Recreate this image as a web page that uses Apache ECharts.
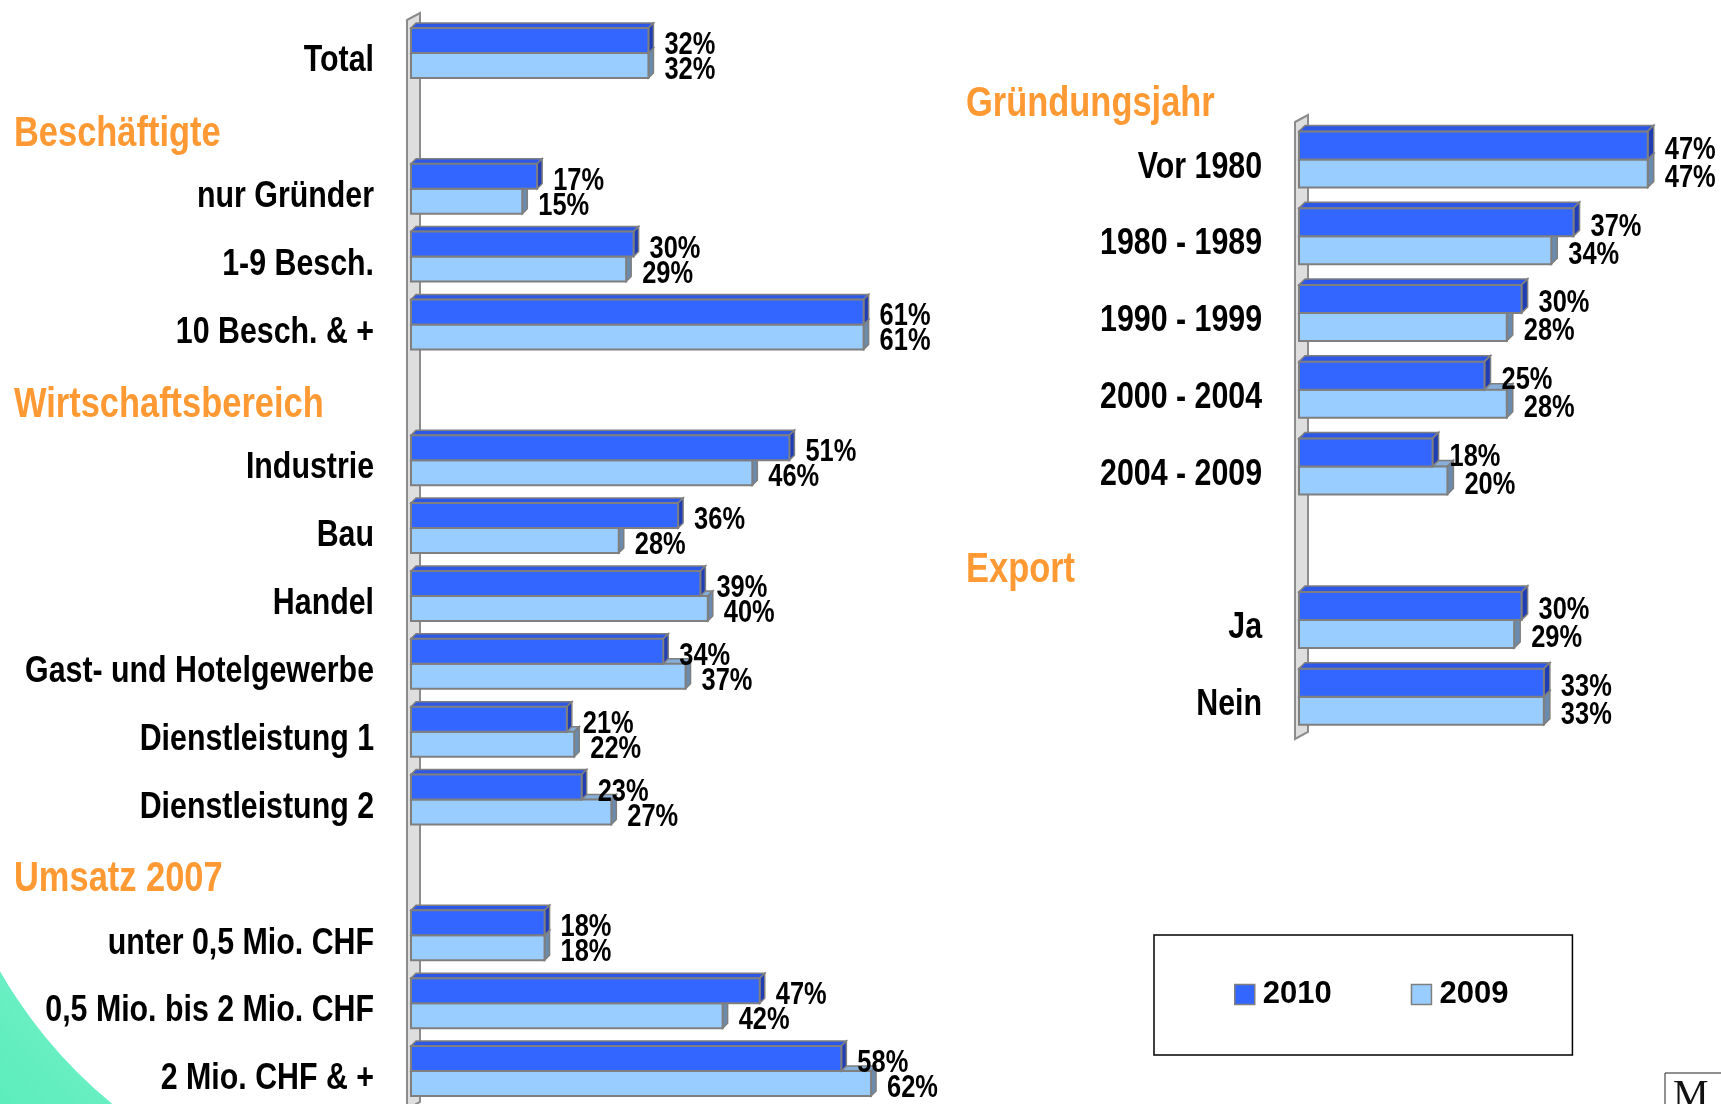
<!DOCTYPE html>
<html>
<head>
<meta charset="utf-8">
<script src="https://cdn.jsdelivr.net/npm/echarts@6/dist/echarts.min.js"></script>
<style>
html,body{margin:0;padding:0;background:#fff;}
#chart{width:1721px;height:1104px;}
</style>
</head>
<body>
<div id="chart"></div>
<script>
// ---------- DATA ----------
var leftCategories = ['Total', ' ', 'nur Gründer', '1-9 Besch.', '10 Besch. & +', '  ',
  'Industrie', 'Bau', 'Handel', 'Gast- und Hotelgewerbe', 'Dienstleistung 1', 'Dienstleistung 2', '   ',
  'unter 0,5 Mio. CHF', '0,5 Mio. bis 2 Mio. CHF', '2 Mio. CHF & +'];
var left2010 = [32, null, 17, 30, 61, null, 51, 36, 39, 34, 21, 23, null, 18, 47, 58];
var left2009 = [32, null, 15, 29, 61, null, 46, 28, 40, 37, 22, 27, null, 18, 42, 62];

var rightCategories = ['Vor 1980', '1980 - 1989', '1990 - 1999', '2000 - 2004', '2004 - 2009', ' ', 'Ja', 'Nein'];
var right2010 = [47, 37, 30, 25, 18, null, 30, 33];
var right2009 = [47, 34, 28, 28, 20, null, 29, 33];

var seriesNames = ['2010', '2009'];
var leftHeaders = ['Beschäftigte', 'Wirtschaftsbereich', 'Umsatz 2007'];
var rightHeaders = ['Gründungsjahr', 'Export'];

// ---------- STYLE ----------
var FONT = '"Liberation Sans", Arial, sans-serif';
var NARROW = 0.82;           // horizontal squeeze to imitate a narrow bold face
var ORANGE = '#FF9933';
var C2010 = {front: '#3366FF', top: '#2D57E6', side: '#1F3DB5'};
var C2009 = {front: '#99CCFF', top: '#86AED8', side: '#6A8BAE'};
var BORDER = '#7F7F7F';

function toData(arr) {
  var out = [];
  arr.forEach(function (v, i) { if (v != null) out.push([v, i]); });
  return out;
}
function catData(cats) {
  var out = [];
  cats.forEach(function (c, i) { if (c.trim() !== '') out.push([0, i]); });
  return out;
}

function barRender(bw, d, isNew, col) {
  return function (params, api) {
    var v = api.value(0), cat = api.value(1);
    if (v == null || isNaN(v)) return;
    var p0 = api.coord([0, cat]);
    var p1 = api.coord([v, cat]);
    var yc = p0[1];
    var top = isNew ? yc - bw : yc;
    var bot = top + bw;
    var x0 = p0[0], x1 = p1[0];
    return {
      type: 'group',
      children: [
        {type: 'polygon', shape: {points: [[x0, top], [x0 + d, top - d], [x1 + d, top - d], [x1, top]]},
          style: {fill: col.top, stroke: BORDER, lineWidth: 1.5}},
        {type: 'polygon', shape: {points: [[x1, top], [x1 + d, top - d], [x1 + d, bot - d], [x1, bot]]},
          style: {fill: col.side, stroke: BORDER, lineWidth: 1.5}},
        {type: 'rect', shape: {x: x0, y: top, width: x1 - x0, height: bw},
          style: {fill: col.front, stroke: BORDER, lineWidth: 2}},
        {type: 'text', x: x1 + d + 11, y: (top + bot) / 2 + 5, scaleX: NARROW,
          style: {x: 0, y: 0, text: v + '%', fill: '#000', font: 'bold 31px ' + FONT, verticalAlign: 'middle', align: 'left'}}
      ]
    };
  };
}

function labelRender(cats) {
  return function (params, api) {
    var idx = api.value(1);
    var p = api.coord([0, idx]);
    return {
      type: 'text', x: p[0] - 37, y: p[1] + 8, scaleX: NARROW,
      style: {x: 0, y: 0, text: cats[idx], fill: '#000', font: 'bold 37px ' + FONT, align: 'right', verticalAlign: 'middle'}
    };
  };
}

function wallRender(params, api) {
  var cs = params.coordSys;
  var x = cs.x;
  var t = cs.y - 6, b = cs.y + cs.height + 4;
  return {
    type: 'polygon',
    shape: {points: [[x - 4, t + 7], [x + 9, t], [x + 9, b - 7], [x - 4, b]]},
    style: {fill: '#DEDEDE', stroke: '#8C8C8C', lineWidth: 2}
  };
}

function catAxis(gi, cats) {
  return {
    type: 'category', gridIndex: gi, data: cats, inverse: true,
    axisLine: {show: false}, axisTick: {show: false}, splitLine: {show: false}, axisLabel: {show: false}
  };
}

function header(text, x, y) {
  return {type: 'text', x: x, y: y, scaleX: NARROW, z: 5,
    style: {x: 0, y: 0, text: text, fill: ORANGE, font: 'bold 42px ' + FONT, verticalAlign: 'middle', align: 'left'}};
}

var chart = echarts.init(document.getElementById('chart'), null, {renderer: 'canvas'});

var option = {
  backgroundColor: '#fff',
  animation: false,
  grid: [
    {left: 411, top: 19, width: 70 * 7.42, height: 1086, outerBoundsMode: 'none', containLabel: false},
    {left: 1299, top: 121, width: 50 * 7.42, height: 614, outerBoundsMode: 'none', containLabel: false}
  ],
  xAxis: [
    {type: 'value', gridIndex: 0, min: 0, max: 70, show: false},
    {type: 'value', gridIndex: 1, min: 0, max: 50, show: false}
  ],
  yAxis: [catAxis(0, leftCategories), catAxis(1, rightCategories)],
  legend: {
    left: 1154, top: 935,
    padding: [44, 64, 45, 80],
    borderColor: '#000', borderWidth: 1.5,
    itemGap: 79, itemWidth: 20, itemHeight: 20, icon: 'rect',
    textStyle: {fontSize: 31, fontWeight: 'bold', fontFamily: FONT, color: '#000', padding: [0, 0, 0, 3]},
    data: [
      {name: seriesNames[0], itemStyle: {color: C2010.front, borderColor: BORDER, borderWidth: 1.5}},
      {name: seriesNames[1], itemStyle: {color: C2009.front, borderColor: BORDER, borderWidth: 1.5}}
    ]
  },
  graphic: [
    {type: 'rect', z: -10, shape: {x: 0, y: 850, width: 260, height: 254},
      style: {fill: new echarts.graphic.LinearGradient(0, 1, 1, 0, [{offset: 0, color: '#5CEDBC'}, {offset: 1, color: '#92F3D6'}])}},
    {type: 'circle', z: -9, shape: {cx: 415, cy: 734, r: 478}, style: {fill: '#fff'}},
    header(leftHeaders[0], 14, 134),
    header(leftHeaders[1], 14, 405),
    header(leftHeaders[2], 14, 879),
    header(rightHeaders[0], 966, 104),
    header(rightHeaders[1], 966, 570),
    {type: 'rect', z: 5, shape: {x: 1665, y: 1073, width: 80, height: 40}, style: {fill: '#fff', stroke: '#222', lineWidth: 1}},
    {type: 'text', z: 6, x: 1673, y: 1076, style: {x: 0, y: 0, text: 'M', fill: '#111', font: '40px "Liberation Serif", "DejaVu Serif", serif', verticalAlign: 'top'}}
  ],
  series: [
    {type: 'custom', name: 'wallL', xAxisIndex: 0, yAxisIndex: 0, z: 1, data: [[0, 0]], renderItem: wallRender, silent: true},
    {type: 'custom', name: 'wallR', xAxisIndex: 1, yAxisIndex: 1, z: 1, data: [[0, 0]], renderItem: wallRender, silent: true},
    {type: 'custom', name: 'labelsL', xAxisIndex: 0, yAxisIndex: 0, z: 4, encode: {x: 0, y: 1},
      data: catData(leftCategories), renderItem: labelRender(leftCategories), silent: true},
    {type: 'custom', name: 'labelsR', xAxisIndex: 1, yAxisIndex: 1, z: 4, encode: {x: 0, y: 1},
      data: catData(rightCategories), renderItem: labelRender(rightCategories), silent: true},
    {type: 'custom', name: seriesNames[1], xAxisIndex: 0, yAxisIndex: 0, z: 2, itemStyle: {color: C2009.front},
      encode: {x: 0, y: 1}, data: toData(left2009), renderItem: barRender(25, 5, false, C2009)},
    {type: 'custom', name: seriesNames[0], xAxisIndex: 0, yAxisIndex: 0, z: 3, itemStyle: {color: C2010.front},
      encode: {x: 0, y: 1}, data: toData(left2010), renderItem: barRender(25, 5, true, C2010)},
    {type: 'custom', name: seriesNames[1], xAxisIndex: 1, yAxisIndex: 1, z: 2, itemStyle: {color: C2009.front},
      encode: {x: 0, y: 1}, data: toData(right2009), renderItem: barRender(28, 6, false, C2009)},
    {type: 'custom', name: seriesNames[0], xAxisIndex: 1, yAxisIndex: 1, z: 3, itemStyle: {color: C2010.front},
      encode: {x: 0, y: 1}, data: toData(right2010), renderItem: barRender(28, 6, true, C2010)}
  ]
};
chart.setOption(option);
</script>
</body>
</html>
